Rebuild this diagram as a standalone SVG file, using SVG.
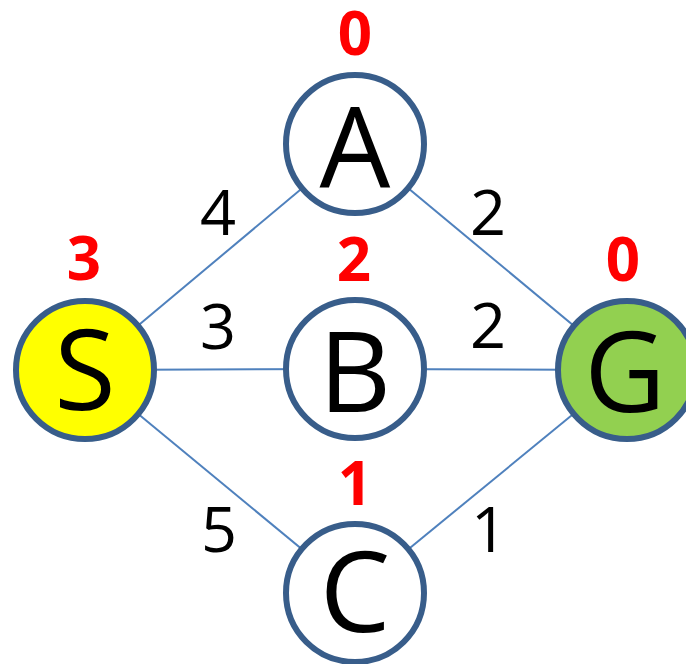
<svg xmlns="http://www.w3.org/2000/svg" width="686" height="664" viewBox="0 0 686 664">
<style>
.edge{stroke:#4f81bd;stroke-width:2;fill:none}
.node circle{stroke:#385d8a;stroke-width:6}
.lbl{font-family:"Open Sans","Liberation Sans",sans-serif;font-size:112px;fill:#000;text-anchor:middle}
.h{font-family:"Open Sans","Liberation Sans",sans-serif;font-size:60px;font-weight:bold;fill:#ff0000;text-anchor:middle}
.w{font-family:"Open Sans","Liberation Sans",sans-serif;font-size:63px;fill:#000;text-anchor:middle}
</style>
<rect width="686" height="664" fill="#fff"/>
<g id="edges">
<line class="edge" x1="85" y1="370" x2="355" y2="144"/>
<line class="edge" x1="85" y1="370" x2="355" y2="369"/>
<line class="edge" x1="85" y1="370" x2="355" y2="593"/>
<line class="edge" x1="355" y1="144" x2="627" y2="370"/>
<line class="edge" x1="355" y1="369" x2="627" y2="370"/>
<line class="edge" x1="355" y1="593" x2="627" y2="370"/>
<text class="w" x="218" y="235">4</text>
<text class="w" x="218" y="349">3</text>
<text class="w" x="219" y="552">5</text>
<text class="w" x="488" y="235">2</text>
<text class="w" x="488" y="348">2</text>
<text class="w" x="489" y="552">1</text>
</g>
<g id="S" class="node">
<circle cx="85" cy="370" r="69" fill="#ffff00"/>
<text class="lbl" x="85" y="410">S</text>
<text class="h" x="84" y="280">3</text>
</g>
<g id="A" class="node">
<circle cx="355" cy="144" r="69" fill="#fff"/>
<text class="lbl" x="355" y="187">A</text>
<text class="h" x="355" y="55">0</text>
</g>
<g id="B" class="node">
<circle cx="355" cy="369" r="69" fill="#fff"/>
<text class="lbl" x="355" y="412">B</text>
<text class="h" x="354" y="281">2</text>
</g>
<g id="C" class="node">
<circle cx="355" cy="593" r="69" fill="#fff"/>
<text class="lbl" x="355" y="632">C</text>
<text class="h" x="355" y="505">1</text>
</g>
<g id="G" class="node">
<circle cx="627" cy="370" r="69" fill="#92d050"/>
<text class="lbl" x="625" y="412">G</text>
<text class="h" x="623" y="281">0</text>
</g>
</svg>
